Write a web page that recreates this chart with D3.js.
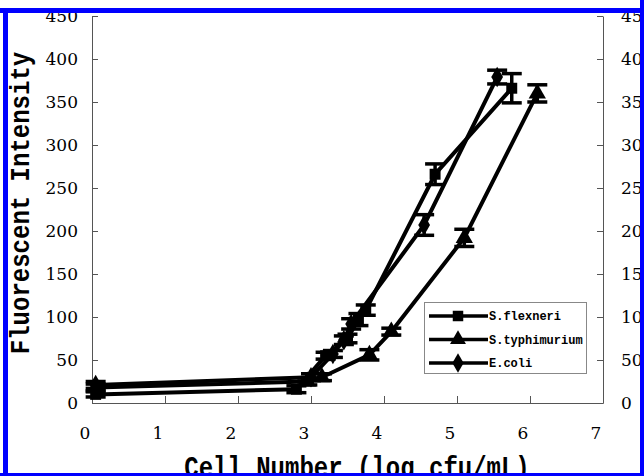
<!DOCTYPE html>
<html>
<head>
<meta charset="utf-8">
<script src="https://cdn.jsdelivr.net/npm/d3@7"></script>
<style>
  body { margin: 0; background: white; }
  svg { display: block; }
</style>
</head>
<body>
<div id="chart"></div>
<script>
// data
const xTicks = [0, 1, 2, 3, 4, 5, 6, 7];
const yTicks = [0, 50, 100, 150, 200, 250, 300, 350, 400, 450];

const flexX = [0.05, 2.8, 3.2, 3.5, 3.65, 3.75, 4.7, 5.75];
const flexY = [10, 16, 55, 75, 97, 108, 266, 366];
const flexErr = [3, 4, 4, 5, 7, 6, 12, 17];

const typhX = [0.05, 2.95, 3.15, 3.8, 4.1, 5.1, 6.1];
const typhY = [18, 25, 30, 56, 83, 192, 360];
const typhErr = [4, 4, 4, 6, 4, 10, 10];

const coliX = [0.05, 3.0, 3.3, 3.45, 3.55, 4.55, 5.55];
const coliY = [21, 30, 57, 73, 92, 207, 379];
const coliErr = [4, 4, 4, 5, 6, 12, 8];

const seriesNames = ["S.flexneri", "S.typhimurium", "E.coli"];

function drawChart() {
  const W = 644, H = 476;
  const svg = d3.select("#chart").append("svg")
      .attr("width", W)
      .attr("height", H);

  const x = d3.scaleLinear().domain([0, 7]).range([92, 603]);
  const y = d3.scaleLinear().domain([0, 450]).range([403, 16]);

  const axisColor = "#555";
  const tickFont = "'DejaVu Serif', serif";

  // x axis (ticks point inward)
  const gx = svg.append("g")
      .attr("transform", `translate(0,${y(0)})`)
      .call(d3.axisBottom(x).tickValues(xTicks).tickSize(-7).tickSizeOuter(0).tickFormat(""));
  gx.select(".domain").attr("stroke", axisColor);
  gx.selectAll(".tick line").attr("stroke", axisColor);

  svg.append("g").selectAll("text")
      .data(xTicks)
      .join("text")
      .attr("x", d => x(d) - 7)
      .attr("y", 439)
      .attr("text-anchor", "middle")
      .style("font-family", tickFont)
      .style("font-size", "17px")
      .text(d => d);

  // left axis
  const gl = svg.append("g")
      .attr("transform", `translate(${x(0)},0)`)
      .call(d3.axisLeft(y).tickValues(yTicks).tickSize(-6).tickSizeOuter(0).tickPadding(14));
  gl.select(".domain").attr("stroke", axisColor);
  gl.selectAll(".tick line").attr("stroke", axisColor);
  gl.selectAll(".tick text")
      .style("font-family", tickFont)
      .style("font-size", "17px")
      .attr("fill", "black");

  // right axis
  const gr = svg.append("g")
      .attr("transform", `translate(${x(7)},0)`)
      .call(d3.axisRight(y).tickValues(yTicks).tickSize(-6).tickSizeOuter(0).tickPadding(18));
  gr.select(".domain").attr("stroke", axisColor);
  gr.selectAll(".tick line").attr("stroke", axisColor);
  gr.selectAll(".tick text")
      .style("font-family", tickFont)
      .style("font-size", "17px")
      .attr("fill", "black");

  const series = [
    { name: seriesNames[0], xs: flexX, ys: flexY, err: flexErr, sym: d3.symbolSquare, size: 120 },
    { name: seriesNames[1], xs: typhX, ys: typhY, err: typhErr, sym: d3.symbolTriangle, size: 130 },
    { name: seriesNames[2], xs: coliX, ys: coliY, err: coliErr, sym: d3.symbolDiamond, size: 120 }
  ];

  const line = d3.line().x(d => x(d[0])).y(d => y(d[1]));

  series.forEach(s => {
    const pts = s.xs.map((v, i) => [v, s.ys[i], s.err[i]]);

    svg.append("path")
        .datum(pts)
        .attr("fill", "none")
        .attr("stroke", "black")
        .attr("stroke-width", 4)
        .attr("d", line);

    // error bars
    const eb = svg.append("g").attr("stroke", "black").attr("stroke-width", 3.5);
    eb.selectAll("line.v")
        .data(pts)
        .join("line")
        .attr("x1", d => x(d[0])).attr("x2", d => x(d[0]))
        .attr("y1", d => y(d[1] + d[2])).attr("y2", d => y(d[1] - d[2]));
    eb.selectAll("line.t")
        .data(pts)
        .join("line")
        .attr("x1", d => x(d[0]) - 10).attr("x2", d => x(d[0]) + 10)
        .attr("y1", d => y(d[1] + d[2])).attr("y2", d => y(d[1] + d[2]));
    eb.selectAll("line.b")
        .data(pts)
        .join("line")
        .attr("x1", d => x(d[0]) - 10).attr("x2", d => x(d[0]) + 10)
        .attr("y1", d => y(d[1] - d[2])).attr("y2", d => y(d[1] - d[2]));

    svg.append("g").selectAll("path")
        .data(pts)
        .join("path")
        .attr("transform", d => `translate(${x(d[0])},${y(d[1])})`)
        .attr("d", d3.symbol().type(s.sym).size(s.size))
        .attr("fill", "black");
  });

  // legend
  const lg = svg.append("g");
  lg.append("rect")
      .attr("x", 424.5).attr("y", 302.5)
      .attr("width", 162).attr("height", 71)
      .attr("fill", "white")
      .attr("stroke", "#888");
  series.forEach((s, i) => {
    const ly = 316 + i * 23.5;
    lg.append("line")
        .attr("x1", 429).attr("x2", 488)
        .attr("y1", ly).attr("y2", ly)
        .attr("stroke", "black").attr("stroke-width", 3.5);
    lg.append("path")
        .attr("transform", `translate(458,${ly})`)
        .attr("d", d3.symbol().type(s.sym).size(110))
        .attr("fill", "black");
    lg.append("text")
        .attr("x", 489).attr("y", ly + 4)
        .style("font-family", "'Liberation Mono', monospace")
        .style("font-size", "12px")
        .style("font-weight", "bold")
        .text(s.name);
  });

  // axis titles (glyphs stretched a little to match the taller source font)
  svg.append("text")
      .attr("transform", "translate(29,203) rotate(-90) scale(1,1.15)")
      .attr("text-anchor", "middle")
      .style("font-family", "'Liberation Mono', monospace")
      .style("font-size", "24px")
      .style("font-weight", "bold")
      .text("Fluorescent Intensity");

  svg.append("text")
      .attr("transform", "translate(357,477) scale(1,1.25)")
      .attr("text-anchor", "middle")
      .style("font-family", "'Liberation Mono', monospace")
      .style("font-size", "24px")
      .style("font-weight", "bold")
      .text("Cell Number (log cfu/mL)");

  // frame: white strip above the top edge, then the blue border
  svg.append("rect")
      .attr("x", 0).attr("y", 0)
      .attr("width", W).attr("height", 8)
      .attr("fill", "white");
  const blue = "#0000ff";
  svg.append("rect").attr("x", 0).attr("y", 8).attr("width", W).attr("height", 5).attr("fill", blue);
  svg.append("rect").attr("x", 3).attr("y", 8).attr("width", 5).attr("height", H - 8).attr("fill", blue);
  svg.append("rect").attr("x", W - 4).attr("y", 0).attr("width", 4).attr("height", H).attr("fill", blue);
  svg.append("rect").attr("x", 0).attr("y", H - 3).attr("width", W).attr("height", 3).attr("fill", blue);
}

document.addEventListener("DOMContentLoaded", drawChart);
</script>
</body>
</html>
